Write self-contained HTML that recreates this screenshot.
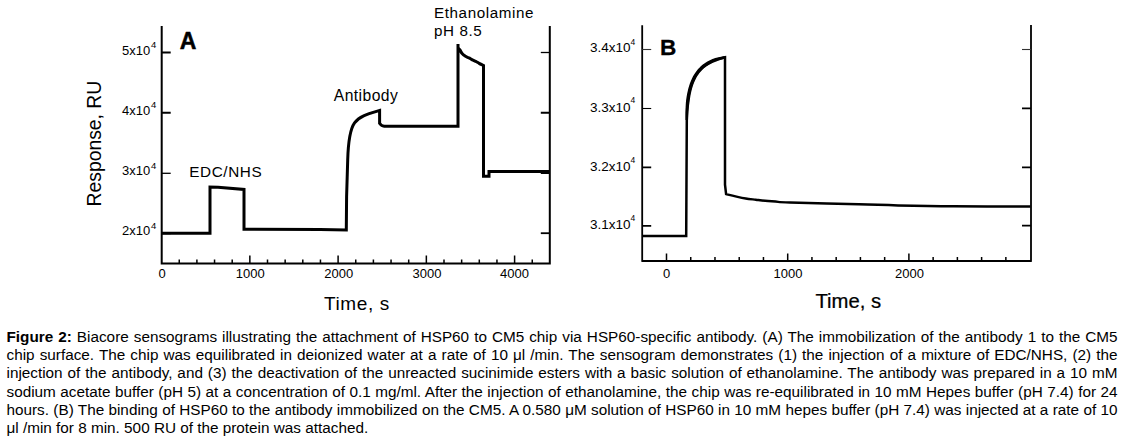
<!DOCTYPE html>
<html><head><meta charset="utf-8">
<style>
html,body{margin:0;padding:0;background:#fff;}
body{width:1123px;height:443px;overflow:hidden;position:relative;font-family:"Liberation Sans",sans-serif;color:#000;}
svg{position:absolute;left:0;top:0;}
svg text{font-family:"Liberation Sans",sans-serif;fill:#000;}
.cap{position:absolute;left:6.5px;top:0;width:1111px;font-size:15.3px;line-height:18.2px;}
.cap .l{position:absolute;left:0;width:1111px;white-space:nowrap;text-align:justify;text-align-last:justify;}
.cap .last{text-align-last:left;}
</style></head><body>
<svg width="1123" height="320" viewBox="0 0 1123 320">
<!-- Plot A axes -->
<g stroke="#000" fill="none">
<path d="M161.7,26 V263.5 M160.7,263.5 H550.8 M549.8,263.5 V26" stroke-width="2"/>
<path d="M161.7,52.5 h9 M161.7,112.75 h9 M161.7,233.3 h9" stroke-width="2"/><path d="M161.7,173.3 h9" stroke-width="1.3"/>
<path d="M549.8,112.75 h-9 M549.8,173 h-9" stroke-width="2"/><path d="M549.8,52.5 h-9" stroke-width="1.3"/><path d="M549.8,233.2 h-9" stroke-width="1.8"/>
<path stroke-width="1.5" d="M179.25,263.5 v-4 M196.90,263.5 v-4 M214.55,263.5 v-4 M232.20,263.5 v-4 M249.85,263.5 v-8 M267.50,263.5 v-4 M285.15,263.5 v-4 M302.80,263.5 v-4 M320.45,263.5 v-4 M338.10,263.5 v-8 M355.75,263.5 v-4 M373.40,263.5 v-4 M391.05,263.5 v-4 M408.70,263.5 v-4 M426.35,263.5 v-8 M444.00,263.5 v-4 M461.65,263.5 v-4 M479.30,263.5 v-4 M496.95,263.5 v-4 M514.60,263.5 v-8 M532.25,263.5 v-4"/>
</g>
<path id="traceA" fill="none" stroke="#000" stroke-width="3" stroke-linejoin="miter" d="M161.8,233.2 L210.00,233.20 L210.00,187.10 L218.00,187.30 L244.00,189.50 L244.00,229.30 L320.00,229.50 L346.30,230.00 L346.60,196.70 L347.70,160.00 C348.87,118.78 354.89,117.81 379.6,110.4 L379.60,123.30 C379.97,123.67 380.90,125.00 381.80,125.50 C382.70,126.00 384.47,126.17 385.00,126.30 L458.00,126.30 L458.00,44.10 M457.8,47.5 C458.17,47.92 459.28,49.00 460.00,50.00 C460.72,51.00 461.18,52.47 462.10,53.50 C463.02,54.53 464.37,55.47 465.50,56.20 C466.63,56.93 467.77,57.30 468.90,57.90 C470.03,58.50 471.17,59.22 472.30,59.80 C473.43,60.38 474.57,60.82 475.70,61.40 C476.83,61.98 477.80,62.62 479.10,63.30 C480.40,63.98 482.77,65.13 483.50,65.50 L483.50,176.20 L489.00,176.20 L489.00,171.40 L549.00,171.40"/>
<g font-size="13">
<text x="122" y="54.8">5x10</text><text x="151" y="48.2" font-size="9.5">4</text>
<text x="122" y="114.6">4x10</text><text x="151" y="108" font-size="9.5">4</text>
<text x="122" y="175.3">3x10</text><text x="151" y="168.7" font-size="9.5">4</text>
<text x="122" y="235.3">2x10</text><text x="151" y="228.7" font-size="9.5">4</text>
<text x="162" y="278" text-anchor="middle">0</text>
<text x="250.3" y="278" text-anchor="middle">1000</text>
<text x="338.8" y="278" text-anchor="middle">2000</text>
<text x="427" y="278" text-anchor="middle">3000</text>
<text x="514.5" y="278" text-anchor="middle">4000</text>
</g>
<text x="179.8" y="49.4" font-size="23" font-weight="bold" stroke="#000" stroke-width="0.5">A</text>
<text x="189.2" y="177.1" font-size="15.3" letter-spacing="0.6">EDC/NHS</text>
<text x="333.8" y="101" font-size="15.7" letter-spacing="0.42">Antibody</text>
<text x="434" y="17.8" font-size="15.2" letter-spacing="0.6">Ethanolamine</text>
<text x="434" y="35.8" font-size="15.2" letter-spacing="0.6">pH 8.5</text>
<text transform="translate(324,309.9) scale(1,0.95)" font-size="19" letter-spacing="0.6">Time, s</text>
<text transform="translate(101.4,206.5) rotate(-90)" font-size="19.35">Response, RU</text>

<!-- Plot B axes -->
<g stroke="#000" fill="none">
<path d="M642.2,25.2 V261 M641.4,261 H1031.8 M1031,261 V25" stroke-width="1.8"/>
<path d="M642.2,49.5 h9" stroke-width="1.1" stroke="#333"/><path d="M642.2,108.5 h9" stroke-width="1.1"/><path d="M642.2,167.3 h9 M642.2,225.9 h9" stroke-width="1.8"/>
<path d="M1031,49.5 h-9" stroke-width="1.1" stroke="#333"/><path d="M1031,108.4 h-9 M1031,167.3 h-9 M1031,225.7 h-9" stroke-width="1.8"/>
<path stroke-width="1.5" d="M666.50,261 v-7.5 M690.74,261 v-4 M714.98,261 v-4 M739.22,261 v-4 M763.46,261 v-4 M787.70,261 v-7.5 M811.94,261 v-4 M836.18,261 v-4 M860.42,261 v-4 M884.66,261 v-4 M908.90,261 v-7.5 M933.14,261 v-4 M957.38,261 v-4 M981.62,261 v-4 M1005.86,261 v-4"/>
</g>
<path id="traceBc" fill="#000" stroke="none" d="M688.05,120.00 L688.12,117.73 L688.22,115.53 L688.35,113.38 L688.49,111.28 L688.67,109.24 L688.86,107.26 L689.08,105.33 L689.32,103.46 L689.57,101.64 L689.80,99.87 L690.05,98.14 L690.32,96.47 L690.61,94.84 L690.93,93.27 L691.26,91.74 L691.62,90.25 L692.00,88.82 L692.40,87.43 L692.82,86.08 L693.27,84.78 L693.73,83.52 L694.21,82.30 L694.71,81.13 L695.24,79.99 L695.78,78.90 L696.34,77.84 L696.92,76.82 L697.52,75.84 L698.13,74.90 L698.77,73.99 L699.43,73.11 L700.10,72.27 L700.79,71.46 L701.50,70.68 L702.23,69.93 L702.97,69.21 L703.74,68.52 L704.52,67.86 L705.33,67.22 L706.15,66.61 L706.99,66.03 L707.85,65.47 L708.73,64.93 L709.62,64.42 L710.54,63.93 L711.48,63.46 L712.43,63.02 L713.40,62.59 L714.40,62.18 L715.41,61.80 L716.42,61.38 L717.46,60.98 L718.51,60.59 L719.58,60.21 L720.68,59.86 L721.79,59.52 L722.93,59.19 L724.08,58.87 L725.25,58.57 L724.75,56.03 L723.51,56.22 L722.30,56.43 L721.09,56.66 L719.90,56.91 L718.73,57.17 L717.56,57.45 L716.41,57.75 L715.28,58.07 L714.16,58.42 L713.07,58.84 L712.00,59.28 L710.94,59.74 L709.91,60.22 L708.88,60.73 L707.88,61.27 L706.90,61.83 L705.93,62.43 L704.98,63.04 L704.05,63.69 L703.14,64.37 L702.24,65.07 L701.37,65.81 L700.52,66.58 L699.69,67.38 L698.88,68.21 L698.09,69.08 L697.32,69.98 L696.58,70.91 L695.85,71.88 L695.15,72.88 L694.47,73.92 L693.82,74.99 L693.18,76.11 L692.57,77.26 L691.99,78.44 L691.42,79.67 L690.88,80.93 L690.37,82.24 L689.87,83.58 L689.40,84.96 L688.96,86.39 L688.53,87.86 L688.13,89.37 L687.76,90.93 L687.40,92.53 L687.08,94.17 L686.77,95.86 L686.49,97.60 L686.23,99.38 L686.00,101.22 L685.84,103.10 L685.72,105.04 L685.62,107.02 L685.55,109.06 L685.50,111.14 L685.48,113.28 L685.48,115.46 L685.50,117.71 L685.55,120.00 Z"/>
<path id="traceB" fill="none" stroke="#000" stroke-width="2.5" stroke-linejoin="miter" d="M642.2,235.9 L686.20,235.90 L686.80,120.00 C686.8,74.6 701.2,62.05 725,57.3 L725.00,184.70 L726.10,194.10 C727.67,194.48 732.23,195.67 735.50,196.40 C738.77,197.13 742.32,197.95 745.70,198.50 C749.08,199.05 753.08,199.37 755.80,199.70 C758.52,200.03 758.72,200.18 762.00,200.50 C765.28,200.82 770.83,201.27 775.50,201.60 C780.17,201.93 776.13,202.07 790.00,202.50 C803.87,202.93 840.70,203.72 858.70,204.20 C876.70,204.68 882.18,205.05 898.00,205.40 C913.82,205.75 931.52,206.12 953.60,206.30 C975.68,206.48 1017.68,206.47 1030.50,206.50"/>
<g font-size="13.5">
<text x="590" y="52.4">3.4x10</text><text x="630.5" y="45" font-size="8.5">4</text>
<text x="590" y="111.5">3.3x10</text><text x="630.5" y="103.4" font-size="8.5">4</text>
<text x="590" y="170.5">3.2x10</text><text x="630.5" y="162.5" font-size="8.5">4</text>
<text x="590" y="229">3.1x10</text><text x="630.5" y="221" font-size="8.5">4</text>
</g>
<g font-size="13">
<text x="666.5" y="278" text-anchor="middle">0</text>
<text x="788" y="278" text-anchor="middle">1000</text>
<text x="909.4" y="278" text-anchor="middle">2000</text>
</g>
<text x="659.9" y="54.6" font-size="22.6" font-weight="bold" stroke="#000" stroke-width="0.3">B</text>
<text transform="translate(815.4,307.8) scale(1,0.97)" font-size="20.3" stroke="#000" stroke-width="0.25">Time, s</text>
</svg>
<div class="cap">
<div class="l" style="top:328px"><b>Figure 2:</b> Biacore sensograms illustrating the attachment of HSP60 to CM5 chip via HSP60-specific antibody. (A) The immobilization of the antibody 1 to the CM5</div>
<div class="l" style="top:346px">chip surface. The chip was equilibrated in deionized water at a rate of 10 μl /min. The sensogram demonstrates (1) the injection of a mixture of EDC/NHS, (2) the</div>
<div class="l" style="top:364px">injection of the antibody, and (3) the deactivation of the unreacted sucinimide esters with a basic solution of ethanolamine. The antibody was prepared in a 10 mM</div>
<div class="l" style="top:383px">sodium acetate buffer (pH 5) at a concentration of 0.1 mg/ml. After the injection of ethanolamine, the chip was re-equilibrated in 10 mM Hepes buffer (pH 7.4) for 24</div>
<div class="l" style="top:401px">hours. (B) The binding of HSP60 to the antibody immobilized on the CM5. A 0.580 μM solution of HSP60 in 10 mM hepes buffer (pH 7.4) was injected at a rate of 10</div>
<div class="l last" style="top:419px">μl /min for 8 min. 500 RU of the protein was attached.</div>
</div>
</body></html>
